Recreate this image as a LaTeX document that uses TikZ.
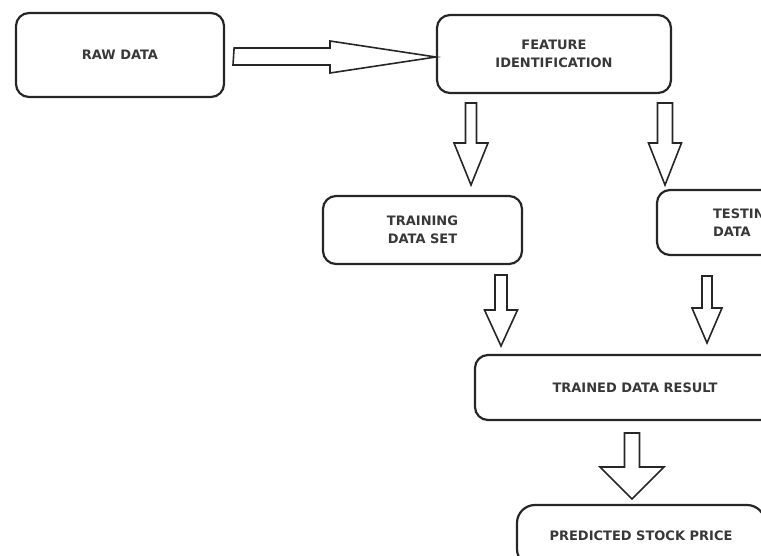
\documentclass[tikz,border=0pt]{standalone}
\usepackage{fontspec}
\setmainfont{DejaVu Sans}
\begin{document}
\begin{tikzpicture}[x=1pt,y=-1pt,
  box/.style={draw=black!85, line width=2.2pt, rounded corners=13pt, rectangle,
    inner sep=0pt, text=black!78, font=\fontsize{13}{17.5}\selectfont\bfseries, align=center},
  blk/.style={draw=black!85, line width=1.6pt, fill=white, line join=miter}]
\useasboundingbox (0,0) rectangle (761,555);
\clip (0,0) rectangle (761,555);
% boxes
\node[box, minimum width=208pt, minimum height=84pt] (raw) at (120,55) {RAW DATA};
\node[box, minimum width=234pt, minimum height=78pt] (feat) at (554,54) {FEATURE\\IDENTIFICATION};
\node[box, minimum width=199pt, minimum height=68pt] (train) at (422.5,230) {TRAINING\\DATA SET};
\node[box, minimum width=203pt, minimum height=65pt, text width=91pt, align=left] (test) at (758.5,222.5) {TESTING\\DATA};
\node[box, minimum width=320pt, minimum height=65pt] (res) at (635,387.5) {TRAINED DATA RESULT};
\node[box, rounded corners=18pt, minimum width=248pt, minimum height=62pt] (pred) at (641,536) {PREDICTED STOCK PRICE};
% right block arrow raw -> feat
\draw[blk] (raw.east |- 0,48) ++(9,0) coordinate (r0)
  -- (330,48) -- (330,41) -- (feat.west |- 0,57) coordinate (r1) -- (330,73) -- (330,65) -- (233,65) -- cycle;
% down block arrows: centre x, shaft top, head base, tip, shaft half, head half
\newcommand\dnblk[6]{\draw[blk] (#1-#5,#2) -- (#1+#5,#2) -- (#1+#5,#3) -- (#1+#6,#3) -- (#1,#4) -- (#1-#6,#3) -- (#1-#5,#3) -- cycle;}
\dnblk{471}{103}{143}{185}{5.5}{17}
\dnblk{665}{103}{143}{185}{7.5}{16.5}
\dnblk{501}{275}{310}{346}{6}{16.5}
\dnblk{707}{276}{308}{343}{5}{15}
\dnblk{632}{433}{467}{499}{7.5}{32}
\end{tikzpicture}
\end{document}
